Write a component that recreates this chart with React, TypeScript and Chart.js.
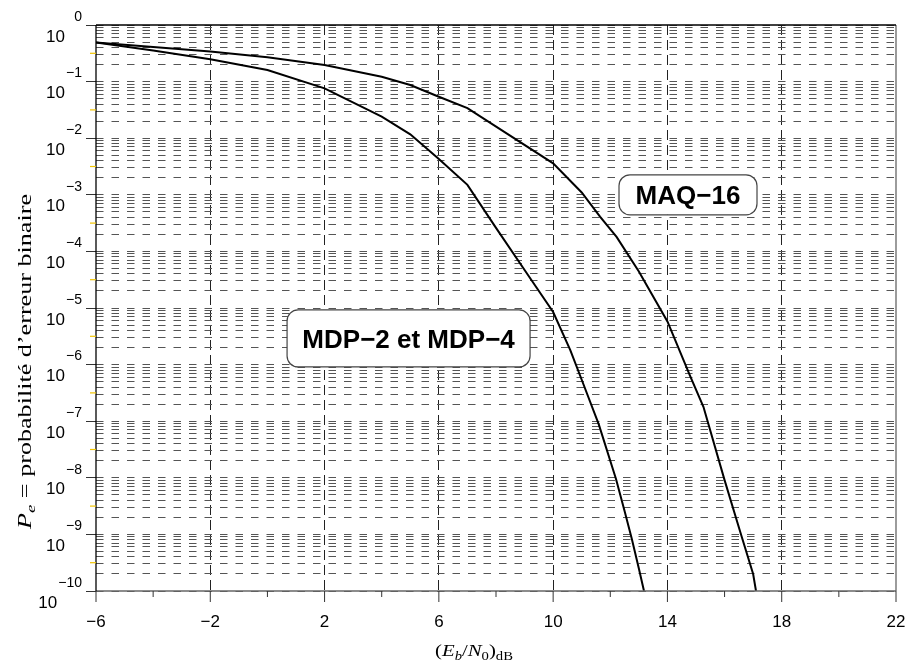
import React, { useEffect, useRef } from 'react';
import { Chart, registerables } from 'chart.js';

Chart.register(...registerables);

// ---------- data ----------
const EBN0_MDP = [-6, -4, -2, 0, 2, 4, 5, 6, 7, 8, 9, 10, 10.6, 11, 11.6, 12.2, 12.5, 12.75, 13, 13.18];
const PE_MDP = [0.49, 0.355, 0.248, 0.16, 0.076, 0.024, 0.0117, 4.3e-3, 1.5e-3, 2.6e-4, 4.7e-5, 8.5e-6, 1.8e-6, 5.4e-7, 8.7e-8, 9.5e-9, 2.6e-9, 8.5e-10, 2.5e-10, 1e-10];

const EBN0_MAQ = [-6, -4, -2, 0, 2, 4, 5, 6, 7, 10, 11, 11.64, 12.22, 13, 14, 14.8, 15.26, 16, 16.6, 17, 17.1];
const PE_MAQ = [0.49, 0.41, 0.34, 0.27, 0.196, 0.122, 0.087, 0.054, 0.034, 3.6e-3, 1.1e-3, 4.1e-4, 1.8e-4, 4.4e-5, 5.8e-6, 6.2e-7, 1.8e-7, 9.1e-9, 9.1e-10, 2.0e-10, 1e-10];

const X_TICK_VALUES = [-6, -2, 2, 6, 10, 14, 18, 22];
const X_TICK_LABELS = ['\u22126', '\u22122', '2', '6', '10', '14', '18', '22'];
const X_MINOR_TICKS = [-4, 0, 4, 8, 12, 16, 20];
const X_GRID_LINES = [-2, 2, 6, 10, 14, 18];

const Y_EXPONENTS = [0, -1, -2, -3, -4, -5, -6, -7, -8, -9, -10];
const Y_EXP_LABELS = ['0', '\u22121', '\u22122', '\u22123', '\u22124', '\u22125', '\u22126', '\u22127', '\u22128', '\u22129', '\u221210'];

const LABEL_TEXTS = ['MAQ\u221216', 'MDP\u22122 et MDP\u22124'];
const LABEL_X = [14.72, 4.94];
const LABEL_Y = [1e-3, 2.9e-6];

// ---------- styles ----------
const LABEL_BOX_SIZES: [number, number][] = [[138, 40], [243, 57]];
const SANS = '"Liberation Sans", Arial, sans-serif';
const SERIF = '"Liberation Serif", "Times New Roman", serif';

type Seg = [string, string]; // text, style: r roman, i italic, +s subscript

function drawRich(ctx: CanvasRenderingContext2D, segs: Seg[], size: number, target: number) {
  const fontFor = (st: string) =>
    `${st.includes('i') ? 'italic ' : ''}${st.includes('s') ? Math.round(size * 0.7) : size}px ${SERIF}`;
  let total = 0;
  const widths = segs.map(([t, st]) => {
    ctx.font = fontFor(st);
    const w = ctx.measureText(t).width;
    total += w;
    return w;
  });
  ctx.save();
  ctx.scale(target / total, 1);
  ctx.textAlign = 'left';
  ctx.textBaseline = 'alphabetic';
  ctx.fillStyle = '#000';
  let x = 0;
  segs.forEach(([t, st], i) => {
    ctx.font = fontFor(st);
    ctx.fillText(t, x, st.includes('s') ? size * 0.22 : 0);
    x += widths[i];
  });
  ctx.restore();
}

const overlay = {
  id: 'overlay',
  afterDraw(chart: any) {
    const { ctx, chartArea: a, scales } = chart;
    const xs = scales.x;
    const ys = scales.y;
    const line = (x1: number, y1: number, x2: number, y2: number) => {
      ctx.beginPath();
      ctx.moveTo(x1, y1);
      ctx.lineTo(x2, y2);
      ctx.stroke();
    };
    ctx.save();
    // frame
    ctx.setLineDash([]);
    ctx.lineWidth = 1.3;
    ctx.strokeStyle = '#666';
    line(a.right, a.top, a.right, a.bottom);
    line(a.left, a.bottom, a.right, a.bottom);
    ctx.strokeStyle = '#000';
    line(a.left, a.top, a.right, a.top);
    line(a.left, a.top, a.left, a.bottom);

    // x tick marks
    ctx.lineWidth = 1;
    ctx.strokeStyle = '#333';
    X_TICK_VALUES.forEach((v) => {
      const px = xs.getPixelForValue(v);
      line(px, a.bottom, px, a.bottom + 11);
    });
    X_MINOR_TICKS.forEach((v) => {
      const px = xs.getPixelForValue(v);
      line(px, a.bottom, px, a.bottom + 6);
    });

    // small yellow marks at mid-decade
    ctx.strokeStyle = '#f2c500';
    ctx.lineWidth = 1.2;
    Y_EXPONENTS.slice(1).forEach((k) => {
      const py = ys.getPixelForValue(Math.sqrt(10) * Math.pow(10, k));
      line(a.left - 6, py, a.left, py);
    });

    // y tick labels 10^k
    ctx.fillStyle = '#000';
    ctx.textAlign = 'right';
    ctx.textBaseline = 'middle';
    Y_EXPONENTS.forEach((k, i) => {
      const py = ys.getPixelForValue(Math.pow(10, k));
      ctx.font = `14px ${SANS}`;
      const ex = Y_EXP_LABELS[i];
      const ew = ctx.measureText(ex).width;
      const exRight = a.left - 14;
      ctx.fillText(ex, exRight, py - 8);
      ctx.font = `17px ${SANS}`;
      ctx.fillText('10', Math.min(a.left - 31, exRight - ew - 1), py + 12);
    });

    // annotation boxes
    LABEL_TEXTS.forEach((t, i) => {
      const cx = xs.getPixelForValue(LABEL_X[i]);
      const cy = ys.getPixelForValue(LABEL_Y[i]);
      const [w, h] = LABEL_BOX_SIZES[i];
      ctx.beginPath();
      ctx.roundRect(cx - w / 2, cy - h / 2, w, h, 11);
      ctx.fillStyle = '#fff';
      ctx.fill();
      ctx.lineWidth = 1.2;
      ctx.strokeStyle = '#444';
      ctx.stroke();
      ctx.fillStyle = '#000';
      ctx.font = `bold 26px ${SANS}`;
      ctx.textAlign = 'center';
      ctx.textBaseline = 'middle';
      ctx.fillText(t, cx, cy + 2);
    });

    // x axis title
    ctx.save();
    const xTarget = 78;
    ctx.translate((a.left + a.right) / 2 - 22 - xTarget / 2, 656);
    drawRich(ctx, [['(', 'r'], ['E', 'i'], ['b', 'is'], ['/', 'r'], ['N', 'i'], ['0', 'rs'], [')', 'r'], ['dB', 'rs']], 17, xTarget);
    ctx.restore();

    // y axis title
    ctx.save();
    ctx.translate(31, 529);
    ctx.rotate(-Math.PI / 2);
    drawRich(ctx, [['P', 'i'], ['e', 'is'], [' = probabilit\u00e9 d\u2019erreur binaire', 'r']], 18, 335);
    ctx.restore();

    ctx.restore();
  },
};

export default function App() {
  const ref = useRef<HTMLCanvasElement | null>(null);
  useEffect(() => {
    if (!ref.current) return;
    const isDecade = (v: number) => Math.abs(Math.log10(v) - Math.round(Math.log10(v))) < 1e-6;
    const chart = new Chart(ref.current, {
      type: 'line',
      data: {
        datasets: [
          {
            label: 'MDP-2 et MDP-4',
            data: EBN0_MDP.map((x, i) => ({ x, y: PE_MDP[i] })),
            borderColor: '#000',
            borderWidth: 2,
            pointRadius: 0,
            tension: 0,
            fill: false,
          },
          {
            label: 'MAQ-16',
            data: EBN0_MAQ.map((x, i) => ({ x, y: PE_MAQ[i] })),
            borderColor: '#000',
            borderWidth: 2,
            pointRadius: 0,
            tension: 0,
            fill: false,
          },
        ],
      },
      options: {
        animation: false,
        responsive: false,
        maintainAspectRatio: false,
        layout: { padding: { top: 25, right: 12, left: 0, bottom: 0 } },
        plugins: { legend: { display: false }, tooltip: { enabled: false } },
        scales: {
          x: {
            type: 'linear',
            min: -6,
            max: 22,
            afterBuildTicks: (sc: any) => {
              sc.ticks = [...X_TICK_VALUES, ...X_MINOR_TICKS].sort((p, q) => p - q).map((value) => ({ value }));
            },
            afterFit: (sc: any) => {
              sc.height = 74;
              sc.paddingLeft = 0;
              sc.paddingRight = 0;
            },
            ticks: {
              autoSkip: false,
              maxRotation: 0,
              padding: 21,
              color: '#000',
              font: { family: SANS, size: 17 },
              callback: (value: any) => {
                const i = X_TICK_VALUES.indexOf(Number(value));
                return i >= 0 ? X_TICK_LABELS[i] : '';
              },
            },
            grid: {
              drawTicks: false,
              lineWidth: 1,
              color: (c: any) => (c.tick && X_GRID_LINES.includes(c.tick.value) ? '#222' : 'rgba(0,0,0,0)'),
            },
            border: { display: false, dash: [10, 5] },
          },
          y: {
            type: 'logarithmic',
            min: 1e-10,
            max: 1,
            afterBuildTicks: (sc: any) => {
              const t: { value: number }[] = [];
              Y_EXPONENTS.forEach((k) => {
                for (let s = 1; s <= 9; s++) {
                  const v = s * Math.pow(10, k);
                  if (v <= 1 + 1e-12) t.push({ value: v });
                }
              });
              t.sort((p, q) => p.value - q.value);
              sc.ticks = t;
            },
            afterFit: (sc: any) => {
              sc.width = 96;
              sc.paddingTop = 0;
              sc.paddingBottom = 0;
            },
            ticks: { display: false },
            grid: {
              drawTicks: true,
              tickLength: 10,
              lineWidth: 1,
              color: '#555',
              tickWidth: 1,
              tickColor: (c: any) => (c.tick && isDecade(c.tick.value) ? '#333' : 'rgba(0,0,0,0)'),
            },
            border: { display: false, dash: [7.5, 8] },
          },
        },
      },
      plugins: [overlay],
    } as any);
    return () => chart.destroy();
  }, []);

  return (
    <div style={{ position: 'fixed', left: 0, top: 0, width: 908, height: 665, background: '#fff' }}>
      <canvas ref={ref} width={908} height={665} style={{ display: 'block', width: 908, height: 665 }} />
    </div>
  );
}
